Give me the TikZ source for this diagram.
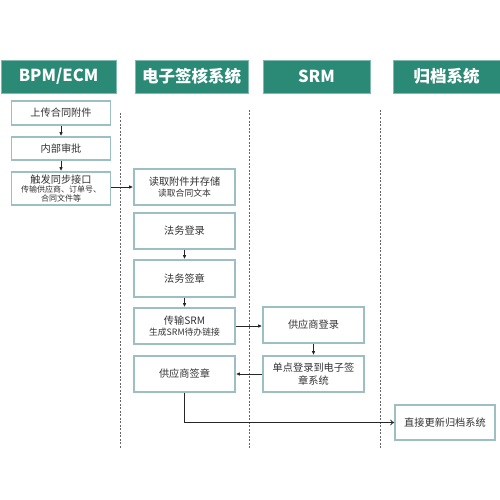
\documentclass[tikz,border=0pt]{standalone}
\usepackage{fontspec}
\setmainfont{Noto Sans CJK SC}
\usetikzlibrary{arrows.meta}
\definecolor{hdr}{HTML}{2B8A76}
\definecolor{bord}{HTML}{9CC0C1}
\definecolor{txt}{HTML}{333333}
\newcommand\smtxt{\fontsize{8}{9}\selectfont}
\newcommand\mdtxt{\fontsize{8.8}{10}\selectfont}
\tikzset{
  hdrbox/.style={fill=hdr, draw=hdr!60!white, line width=0.8pt, text=white, font=\fontsize{16.5}{18}\selectfont\bfseries, inner sep=0pt, minimum height=33pt},
  stepbox/.style={draw=bord, line width=1.6pt, fill=white, text=txt, font=\fontsize{10.2}{11.5}\selectfont, inner sep=0pt, align=center, minimum width=100pt},
  arr/.style={-{Latex[length=4pt,width=3.5pt]}, line width=0.8pt, black!85},
  openarr/.style={-{To[length=4pt,width=6pt]}, line width=0.8pt, black!85},
  lane/.style={draw=black!60, line width=1pt, dash pattern=on 2pt off 1.5pt}
}
\begin{document}
\begin{tikzpicture}[x=1pt,y=-1pt]
\useasboundingbox (0,0) rectangle (500,500);
% headers
\node[hdrbox, minimum width=115pt] (h1) at (58.5,76.5) {BPM/ECM};
\node[hdrbox, minimum width=113pt] (h2) at (191.5,76.5) {电子签核系统};
\node[hdrbox, minimum width=107pt] (h3) at (316.5,76.5) {SRM};
\node[hdrbox, minimum width=107pt] (h4) at (446.5,76.5) {归档系统};
% lanes
\coordinate (l1a) at (120,113); \coordinate (l1b) at (120,448);
\coordinate (l2a) at (249,110); \coordinate (l2b) at (249,448);
\coordinate (l3a) at (380,110); \coordinate (l3b) at (380,448);
\draw[lane] (l1a) -- (l1b);
\draw[lane] (l2a) -- (l2b);
\draw[lane] (l3a) -- (l3b);
% BPM column
\node[stepbox, minimum width=99pt, minimum height=24pt] (up) at (61,113) {上传合同附件};
\node[stepbox, minimum width=99pt, minimum height=23pt] (nb) at (61,148.5) {内部审批};
\node[stepbox, minimum width=99pt, minimum height=33pt] (cf) at (61,188.5) {触发同步接口\\[-2pt]{\smtxt 传输供应商、订单号、}\\[-2.5pt]{\smtxt 合同文件等}};
% E-sign column
\node[stepbox, minimum width=101pt, minimum height=36pt] (dq) at (184.5,187) {读取附件并存储\\[-1pt]{\mdtxt 读取合同文本}};
\node[stepbox, minimum width=101pt, minimum height=36pt] (fl) at (184.5,231) {法务登录};
\node[stepbox, minimum width=101pt, minimum height=37pt] (fq) at (184.5,278.5) {法务签章};
\node[stepbox, minimum width=101pt, minimum height=36pt] (cs) at (184.5,326) {传输SRM\\[-1pt]{\mdtxt 生成SRM待办链接}};
\node[stepbox, minimum width=101pt, minimum height=36pt] (gq) at (184.5,374) {供应商签章};
% SRM column
\node[stepbox, minimum width=101pt, minimum height=36pt] (gl) at (313.5,325) {供应商登录};
\node[stepbox, minimum width=101pt, minimum height=36pt] (dd) at (313.5,374) {单点登录到电子签\\[1.5pt]章系统};
% archive
\node[stepbox, minimum width=100pt, minimum height=35pt] (zj) at (445,422.5) {直接更新归档系统};
% connectors
\draw[arr] (up) -- (nb);
\draw[arr] (nb) -- (cf);
\draw[arr] (cf.east|-dq.west) -- (dq.west);
\draw[arr] (fl) -- (fq);
\draw[arr] (fq) -- (cs);
\draw[arr] (cs.east) -- (cs.east-|gl.west);
\draw[arr] (gl) -- (dd);
\draw[arr] (dd.west) -- (gq.east);
\draw[openarr] (gq.south) |- (zj.west);
\end{tikzpicture}
\end{document}
